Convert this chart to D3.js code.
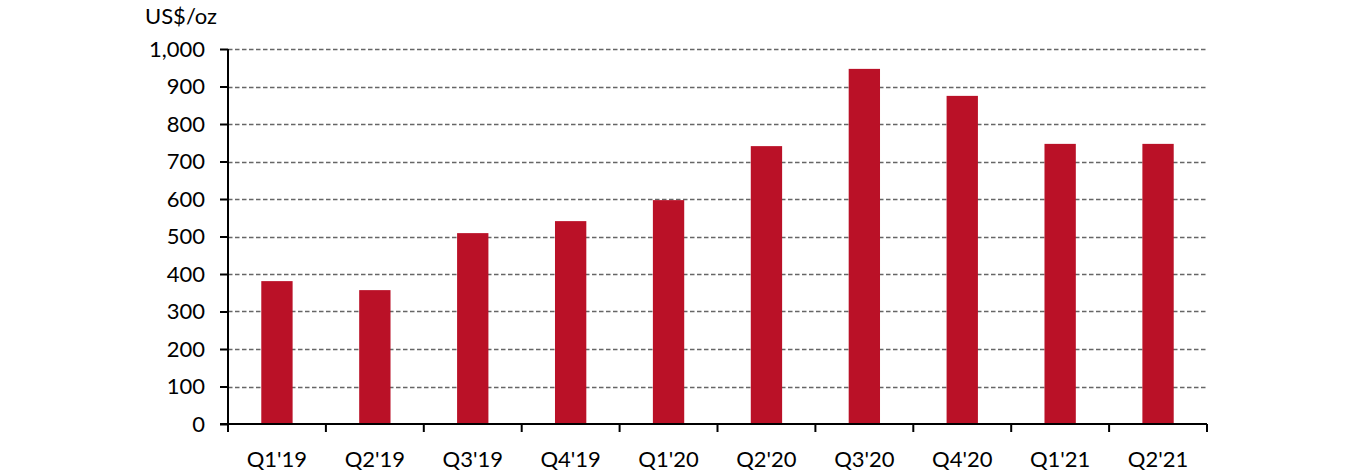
<!DOCTYPE html>
<html><head><meta charset="utf-8">
<script src="https://cdn.jsdelivr.net/npm/d3@7"></script>
<style>body{margin:0;background:#fff;} text{font-family:Lato,"Open Sans",sans-serif;}</style>
</head><body>
<svg id="c" width="1356" height="473"></svg>
<script>
const categories = ["Q1'19","Q2'19","Q3'19","Q4'19","Q1'20","Q2'20","Q3'20","Q4'20","Q1'21","Q2'21"];
const values = [381, 357, 509, 541, 597, 741, 947, 875, 747, 747];
const yTicks = [0,100,200,300,400,500,600,700,800,900,1000];
const unitLabel = "US$/oz";

(function(){
const svg = d3.select("#c");
const mL = 228, mR = 1207, mT = 49, mB = 424;
const fs = 22;
const x = d3.scaleBand().domain(categories).range([mL, mR]).paddingInner(0.68).paddingOuter(0.34);
const xb = d3.scaleBand().domain(categories).range([mL, mR]);
const y = d3.scaleLinear().domain([0, 1000]).range([mB, mT]);

svg.append("g").selectAll("line").data(yTicks.filter(d => d > 0)).join("line")
  .attr("x1", mL).attr("x2", mR)
  .attr("y1", d => Math.round(y(d)) + 0.5).attr("y2", d => Math.round(y(d)) + 0.5)
  .attr("stroke", "#666").attr("stroke-width", 1.3).attr("stroke-dasharray", "4.5,2.5");

svg.append("g").selectAll("rect").data(values).join("rect")
  .attr("x", (d, i) => x(categories[i])).attr("width", x.bandwidth())
  .attr("y", d => y(d)).attr("height", d => y(0) - y(d))
  .attr("fill", "#BA1127");

const ya = svg.append("g").attr("transform", `translate(${mL},0)`)
  .call(d3.axisLeft(y).tickValues(yTicks).tickFormat(d3.format(",")).tickSize(8).tickPadding(15));
ya.select(".domain").attr("stroke", "#000").attr("stroke-width", 2).attr("d", `M0,${mT}V${mB}`);
ya.selectAll(".tick line").attr("stroke", "#000").attr("stroke-width", 2);
ya.selectAll("text").attr("font-size", fs).attr("fill", "#000").attr("font-family", "Lato,'Open Sans',sans-serif");

const xa = svg.append("g").attr("transform", `translate(0,${mB})`);
xa.append("line").attr("x1", mL - 8).attr("x2", mR).attr("y1", 0).attr("y2", 0).attr("stroke", "#000").attr("stroke-width", 2);
const bounds = categories.map(c => xb(c)).concat([mR]);
xa.selectAll(".tk").data(bounds).join("line").attr("class", "tk")
  .attr("x1", d => d).attr("x2", d => d).attr("y1", 0).attr("y2", 8)
  .attr("stroke", "#000").attr("stroke-width", 2);
xa.selectAll(".lbl").data(categories).join("text").attr("class", "lbl")
  .attr("x", d => xb(d) + xb.bandwidth() / 2).attr("y", 43)
  .attr("text-anchor", "middle").attr("font-size", fs).attr("fill", "#000").text(d => d);

svg.append("text").attr("x", 145).attr("y", 24).attr("font-size", fs).attr("fill", "#000").text(unitLabel);
})();
</script>
</body></html>
